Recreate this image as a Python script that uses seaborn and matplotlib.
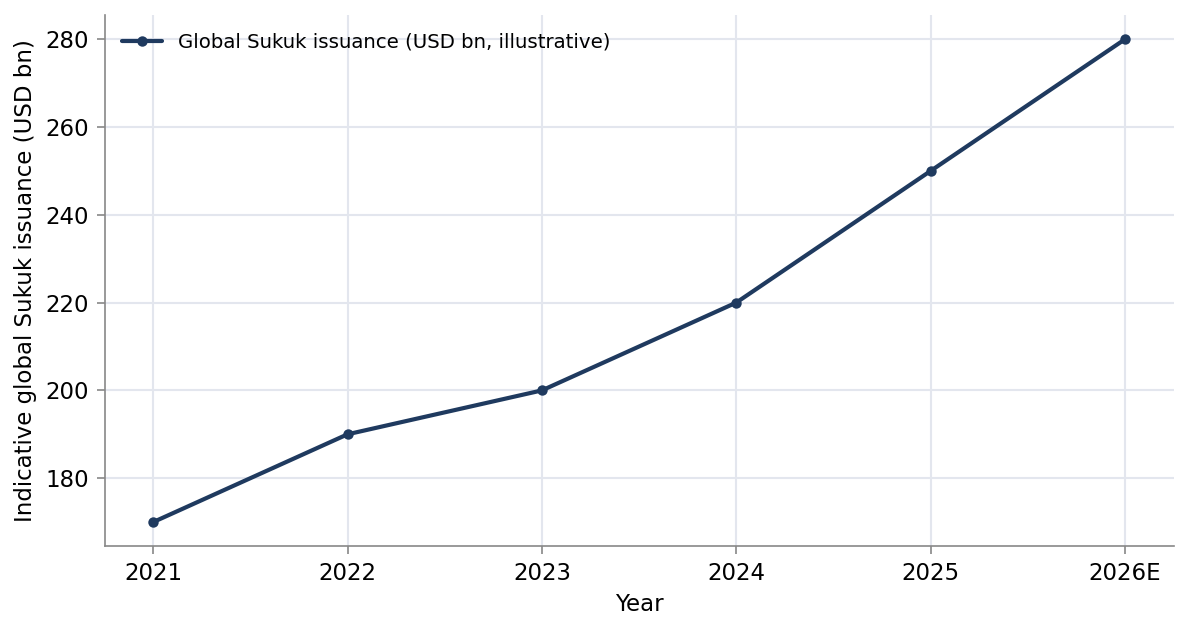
import matplotlib
matplotlib.use('Agg')
import matplotlib.pyplot as plt
import seaborn as sns
import pandas as pd

# data
years = ['2021', '2022', '2023', '2024', '2025', '2026E']
issuance = [170, 190, 200, 220, 250, 280]
series_label = 'Global Sukuk issuance (USD bn, illustrative)'

df = pd.DataFrame({'Year': years, 'Issuance': issuance})

sns.set_style('white')
plt.rcParams['font.family'] = ['DejaVu Sans']
plt.rcParams['text.color'] = 'black'
plt.rcParams['axes.labelcolor'] = 'black'
plt.rcParams['xtick.color'] = 'black'
plt.rcParams['ytick.color'] = 'black'

fig, ax = plt.subplots(figsize=(1189 / 150, 630 / 150), dpi=150)
sns.lineplot(data=df, x='Year', y='Issuance', ax=ax, color='#1f3a5f',
             linewidth=2.0, marker='o', markersize=5, markeredgewidth=0,
             label=series_label, sort=False)

ax.grid(True, color='#e3e6ee', linewidth=1)
ax.set_axisbelow(True)
for side in ['top', 'right']:
    ax.spines[side].set_visible(False)
for side in ['left', 'bottom']:
    ax.spines[side].set_color('#888888')
ax.tick_params(axis='both', which='both', length=4, color='#888888',
               labelsize=11, left=True, bottom=True)
ax.set_xlabel('Year', fontsize=11)
ax.set_ylabel('Indicative global Sukuk issuance (USD bn)', fontsize=11)
ax.set_yticks([180, 200, 220, 240, 260, 280])
ax.set_ylim(164.5, 285.5)
ax.set_xlim(-0.25, 5.25)
ax.legend(loc='upper left', frameon=False, fontsize=9.5)

fig.subplots_adjust(left=0.088, right=0.987, top=0.976, bottom=0.133)
plt.savefig('out.png', dpi=150)
plt.close()
